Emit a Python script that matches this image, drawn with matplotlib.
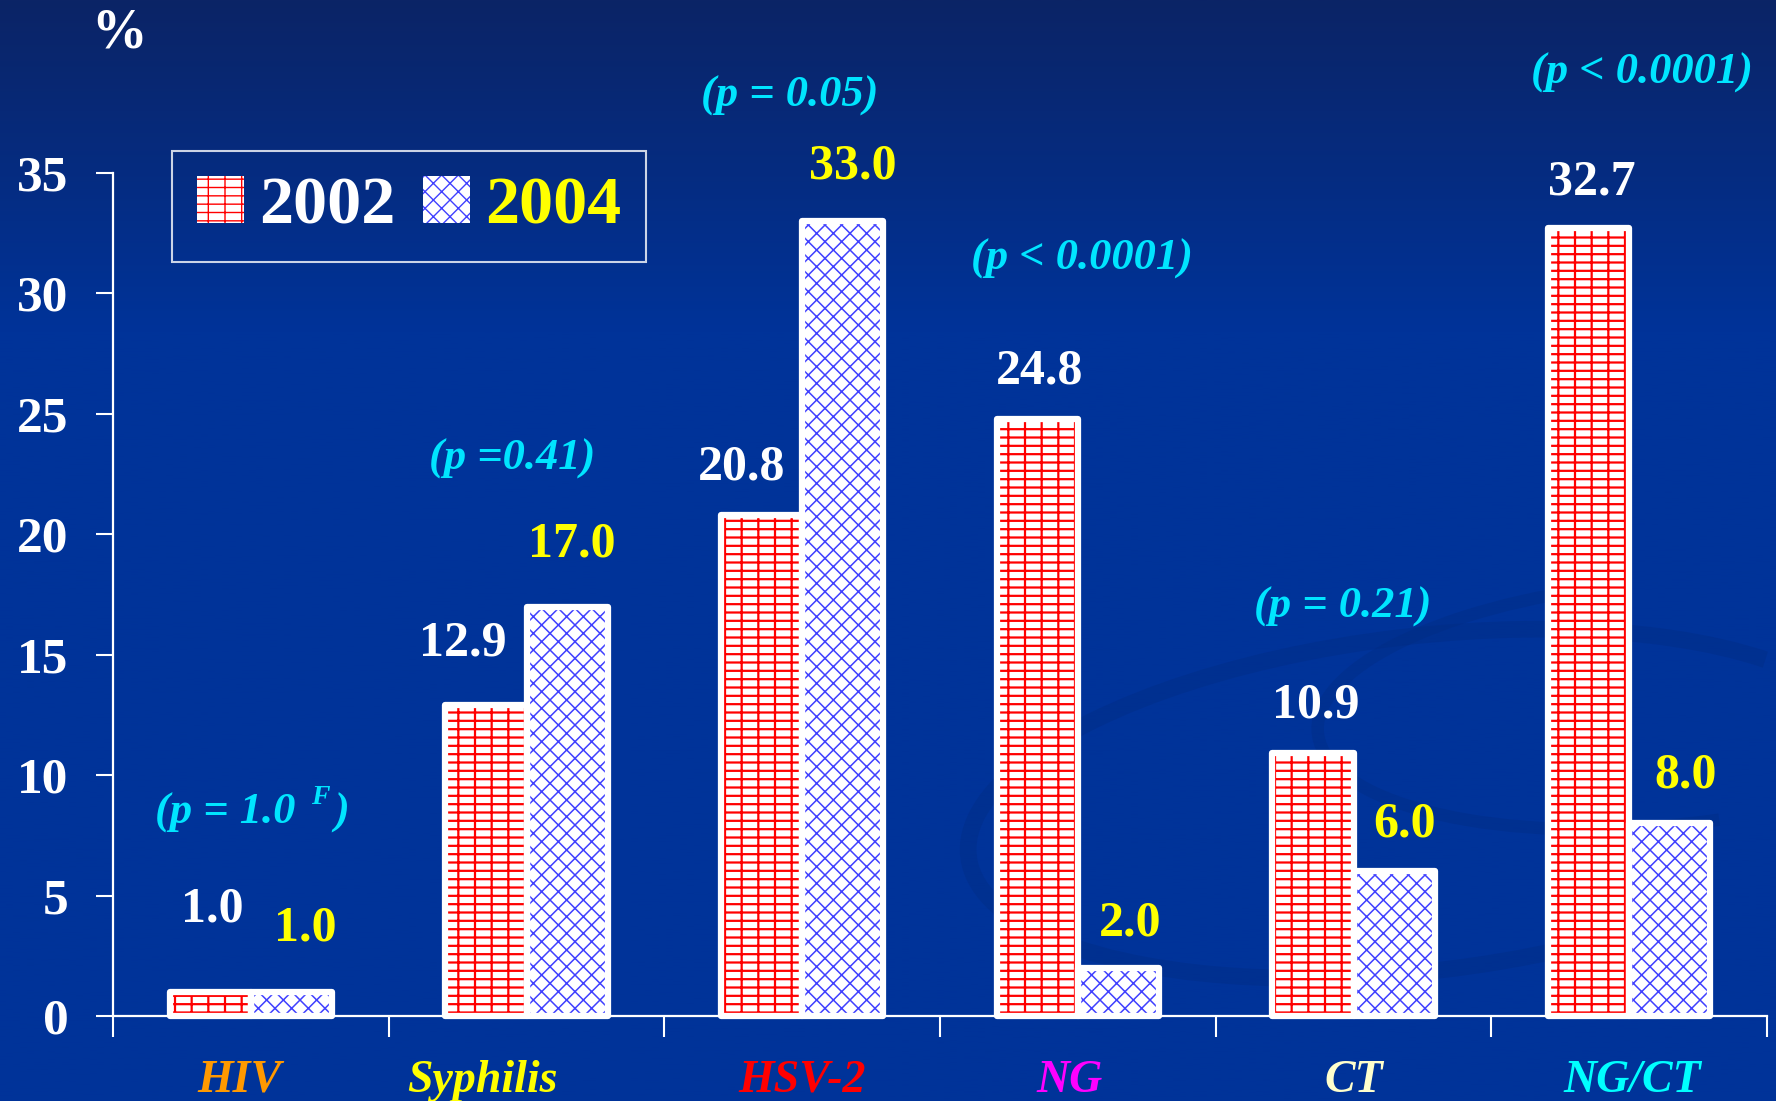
import numpy as np
import matplotlib
matplotlib.use('Agg')
import matplotlib.pyplot as plt
from matplotlib.patches import Patch, Arc

# data
categories = ['HIV', 'Syphilis', 'HSV-2', 'NG', 'CT', 'NG/CT']
cat_colors = ['#ff9900', '#ffff00', '#ff0000', '#ff00ff', '#ffffcc', '#00ffff']
vals_2002 = [1.0, 12.9, 20.8, 24.8, 10.9, 32.7]
vals_2004 = [1.0, 17.0, 33.0, 2.0, 6.0, 8.0]
p_labels = ['(p = 1.0', '(p =0.41)', '(p = 0.05)', '(p < 0.0001)', '(p = 0.21)', '(p < 0.0001)']
y_ticks = [0, 5, 10, 15, 20, 25, 30, 35]

# layout of the hand placed slide labels (data units)
lab02_dx = [0.006, -0.082, -0.071, 0.01, 0.009, 0.012]
lab02_dy = [3.42, 2.58, 1.97, 1.96, 1.99, 1.92]
lab04_dx = [0.05, 0.018, 0.037, 0.044, 0.039, 0.058]
lab04_dy = [2.62, 2.57, 2.28, 1.83, 1.95, 1.97]
p_x = [0.152, 1.447, 2.454, 3.514, 4.460, 5.545]
p_y = [8.42, 23.14, 38.19, 31.42, 16.98, 39.18]
cat_dx = [-0.04, -0.16, 0.0, -0.03, 0.0, 0.01]

SERIF = 'Liberation Serif'
CYAN = '#00e5ff'
RED = '#ff0000'
BLUE = '#4040ff'

fig = plt.figure(figsize=(17.76, 11.01), dpi=100)

# slide background
bg = fig.add_axes([0, 0, 1, 1], zorder=-1)
top = np.array([0x0b, 0x24, 0x66]) / 255
mid = np.array([0x00, 0x33, 0x99]) / 255
t = np.clip(np.linspace(0, 1, 400) / 0.3, 0, 1)[:, None]
grad = (top * (1 - t) + mid * t)[:, None, :]
bg.imshow(grad, aspect='auto', extent=[0, 1, 0, 1])
for cx, cy, w, h, ang, th1, th2, lw in [(0.80, 0.27, 0.52, 0.30, 14, 20, 300, 12),
                                        (0.93, 0.36, 0.38, 0.22, 10, 100, 280, 9)]:
    bg.add_patch(Arc((cx, cy), w, h, angle=ang, theta1=th1, theta2=th2,
                     color='#002b80', lw=lw, alpha=0.35))
bg.set_xlim(0, 1)
bg.set_ylim(0, 1)
bg.axis('off')

ax = fig.add_axes([113 / 1776, 85 / 1101, 1654 / 1776, 843 / 1101])
ax.set_facecolor('none')

x = np.arange(len(categories)) + 0.5
w = 0.295
x02 = x - w / 2
x04 = x + w / 2

with plt.rc_context({'hatch.linewidth': 1.6}):
    ax.bar(x02, vals_2002, w, color='white', edgecolor=RED, hatch='+-', linewidth=0, zorder=2)
with plt.rc_context({'hatch.linewidth': 1.1}):
    ax.bar(x04, vals_2004, w, color='white', edgecolor=BLUE, hatch='xx', linewidth=0, zorder=2)
for xs, vs in [(x02, vals_2002), (x04, vals_2004)]:
    bars = ax.bar(xs, vs, w, fill=False, edgecolor='white', linewidth=4.5,
                  joinstyle='round', zorder=3)
    for b in bars:
        b.set_clip_on(False)

# value labels
for i in range(len(categories)):
    ax.text(x02[i] + lab02_dx[i], vals_2002[i] + lab02_dy[i], f'{vals_2002[i]:.1f}',
            ha='center', va='center', color='white', fontsize=36,
            family=SERIF, weight='bold')
    ax.text(x04[i] + lab04_dx[i], vals_2004[i] + lab04_dy[i], f'{vals_2004[i]:.1f}',
            ha='center', va='center', color='#ffff00', fontsize=36,
            family=SERIF, weight='bold')

# p values
pstyle = dict(color=CYAN, fontsize=32, family=SERIF, weight='bold', style='italic', va='center')
ax.text(p_x[0], p_y[0], p_labels[0], ha='left', **pstyle)
ax.text(0.752, p_y[0] + 0.66, 'F', ha='center', color=CYAN, fontsize=20,
        family=SERIF, weight='bold', style='italic', va='center')
ax.text(0.83, p_y[0], ')', ha='center', **pstyle)
for i in range(1, len(categories)):
    ax.text(p_x[i], p_y[i], p_labels[i], ha='center', **pstyle)

# category labels
for i, (name, c) in enumerate(zip(categories, cat_colors)):
    ax.text(x[i] + cat_dx[i], -3.15, name, ha='center', va='baseline', color=c,
            fontsize=33, family=SERIF, weight='bold', style='italic')

# axes
ax.set_xlim(0, 6)
ax.set_ylim(0, 35)
ax.set_yticks(y_ticks)
ax.set_yticklabels([str(v) for v in y_ticks], family=SERIF, weight='bold',
                   fontsize=37, color='white')
ax.set_xticks(range(7))
ax.set_xticklabels([])
ax.tick_params(axis='y', direction='out', length=12, width=1.5, color='white', pad=20)
ax.tick_params(axis='x', direction='out', length=15, width=1.5, color='white')
for s in ['top', 'right']:
    ax.spines[s].set_visible(False)
for s in ['left', 'bottom']:
    ax.spines[s].set_color('white')
    ax.spines[s].set_linewidth(1.6)

fig.text(119 / 1776, 1 - 34 / 1101, '%', ha='center', va='center', color='white',
         fontsize=40, family=SERIF, weight='bold')

# legend
handles = [Patch(facecolor='white', edgecolor=RED, hatch='+-', linewidth=0),
           Patch(facecolor='white', edgecolor=BLUE, hatch='xx', linewidth=0)]
leg = ax.legend(handles, ['2002', '2004'], ncol=2, loc='upper left',
                bbox_to_anchor=(172 / 1776, 1 - 151 / 1101), bbox_transform=fig.transFigure,
                prop=dict(family=SERIF, weight='bold', size=49),
                frameon=True, fancybox=False, edgecolor='white', facecolor='none',
                handlelength=0.7, handleheight=0.7, handletextpad=0.22,
                columnspacing=0.4, borderpad=0.36, borderaxespad=0)
leg.get_frame().set_linewidth(1.5)
for txt, c in zip(leg.get_texts(), ['white', '#ffff00']):
    txt.set_color(c)

fig.savefig('out.png', dpi=100)
